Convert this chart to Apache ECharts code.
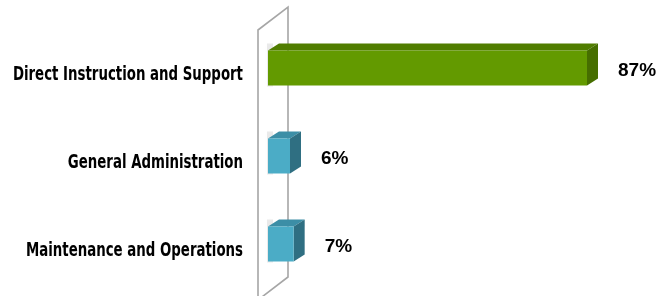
<!DOCTYPE html>
<html>
<head>
<meta charset="utf-8">
<script src="https://cdn.jsdelivr.net/npm/echarts@6/dist/echarts.min.js"></script>
<style>
  html, body { margin: 0; background: #fff; }
  #main { width: 670px; height: 296px; }
</style>
</head>
<body>
<div id="main"></div>
<script>
var categories = ['Direct Instruction and Support', 'General Administration', 'Maintenance and Operations'];
var shares = [87, 6, 7];
var shareLabels = ['87%', '6%', '7%'];

// front / top / side shades per bar
var palette = [
  { front: '#639a00', top: '#507d00', side: '#466e00' },
  { front: '#4bacc6', top: '#3c8ea6', side: '#2f6f82' },
  { front: '#4bacc6', top: '#3c8ea6', side: '#2f6f82' }
];
var DX = 11, DY = 7, BAR_H = 35;
var narrow = '"Liberation Sans Narrow", "DejaVu Sans Condensed", sans-serif';

var chart = echarts.init(document.getElementById('main'));

function renderBar(params, api) {
  var i = params.dataIndex;
  var start = api.coord([0, api.value(1)]);
  var end = api.coord([api.value(0), api.value(1)]);
  var x0 = start[0], x1 = end[0];
  var y0 = start[1] - BAR_H / 2, y1 = start[1] + BAR_H / 2;
  var c = palette[i];
  return {
    type: 'group',
    children: [
      // soft shadow on the wall
      { type: 'rect', shape: { x: x0 - 1, y: y0 - DY, width: 6, height: BAR_H + 8 },
        style: { fill: 'rgba(0,0,0,0.08)', shadowBlur: 5, shadowColor: 'rgba(0,0,0,0.2)' } },
      { type: 'polygon', shape: { points: [[x0, y0], [x0 + DX, y0 - DY], [x1 + DX, y0 - DY], [x1, y0]] },
        style: { fill: c.top } },
      { type: 'polygon', shape: { points: [[x1, y0], [x1 + DX, y0 - DY], [x1 + DX, y1 - DY], [x1, y1]] },
        style: { fill: c.side } },
      { type: 'rect', shape: { x: x0, y: y0, width: x1 - x0, height: BAR_H },
        style: { fill: c.front } },
      // value label
      { type: 'text', x: x1 + 31, y: start[1] + 3,
        style: { text: shareLabels[i], fill: '#000', font: 'bold 19px "Liberation Sans", Arial, sans-serif',
          textAlign: 'left', textVerticalAlign: 'middle' } },
      // category label, condensed
      { type: 'text', x: x0 - 25, y: start[1] + 7, scaleX: 0.78,
        style: { text: categories[i], fill: '#000', font: 'bold 19px ' + narrow,
          textAlign: 'right', textVerticalAlign: 'middle' } }
    ]
  };
}

chart.setOption({
  animation: false,
  grid: { left: 268, right: 83, top: 24, height: 264, outerBoundsMode: 'none', containLabel: false },
  xAxis: { type: 'value', min: 0, max: 87, show: false },
  yAxis: {
    type: 'category',
    data: categories,
    inverse: true,
    axisLine: { show: false },
    axisTick: { show: false },
    axisLabel: { show: false }
  },
  series: [{
    type: 'custom',
    renderItem: renderBar,
    encode: { x: 0, y: 1 },
    data: shares.map(function (v, i) { return [v, i]; }),
    z: 3
  }]
});

// back wall, placed relative to the value-axis origin
var ox = chart.convertToPixel({ xAxisIndex: 0 }, 0);
chart.setOption({
  graphic: [{
    type: 'polygon',
    z: 1,
    shape: { points: [[ox - 10, 30], [ox + 20, 7], [ox + 20, 277], [ox - 10, 300]] },
    style: { fill: '#fff', stroke: '#a6a6a6', lineWidth: 1.6 }
  }]
});
</script>
</body>
</html>
